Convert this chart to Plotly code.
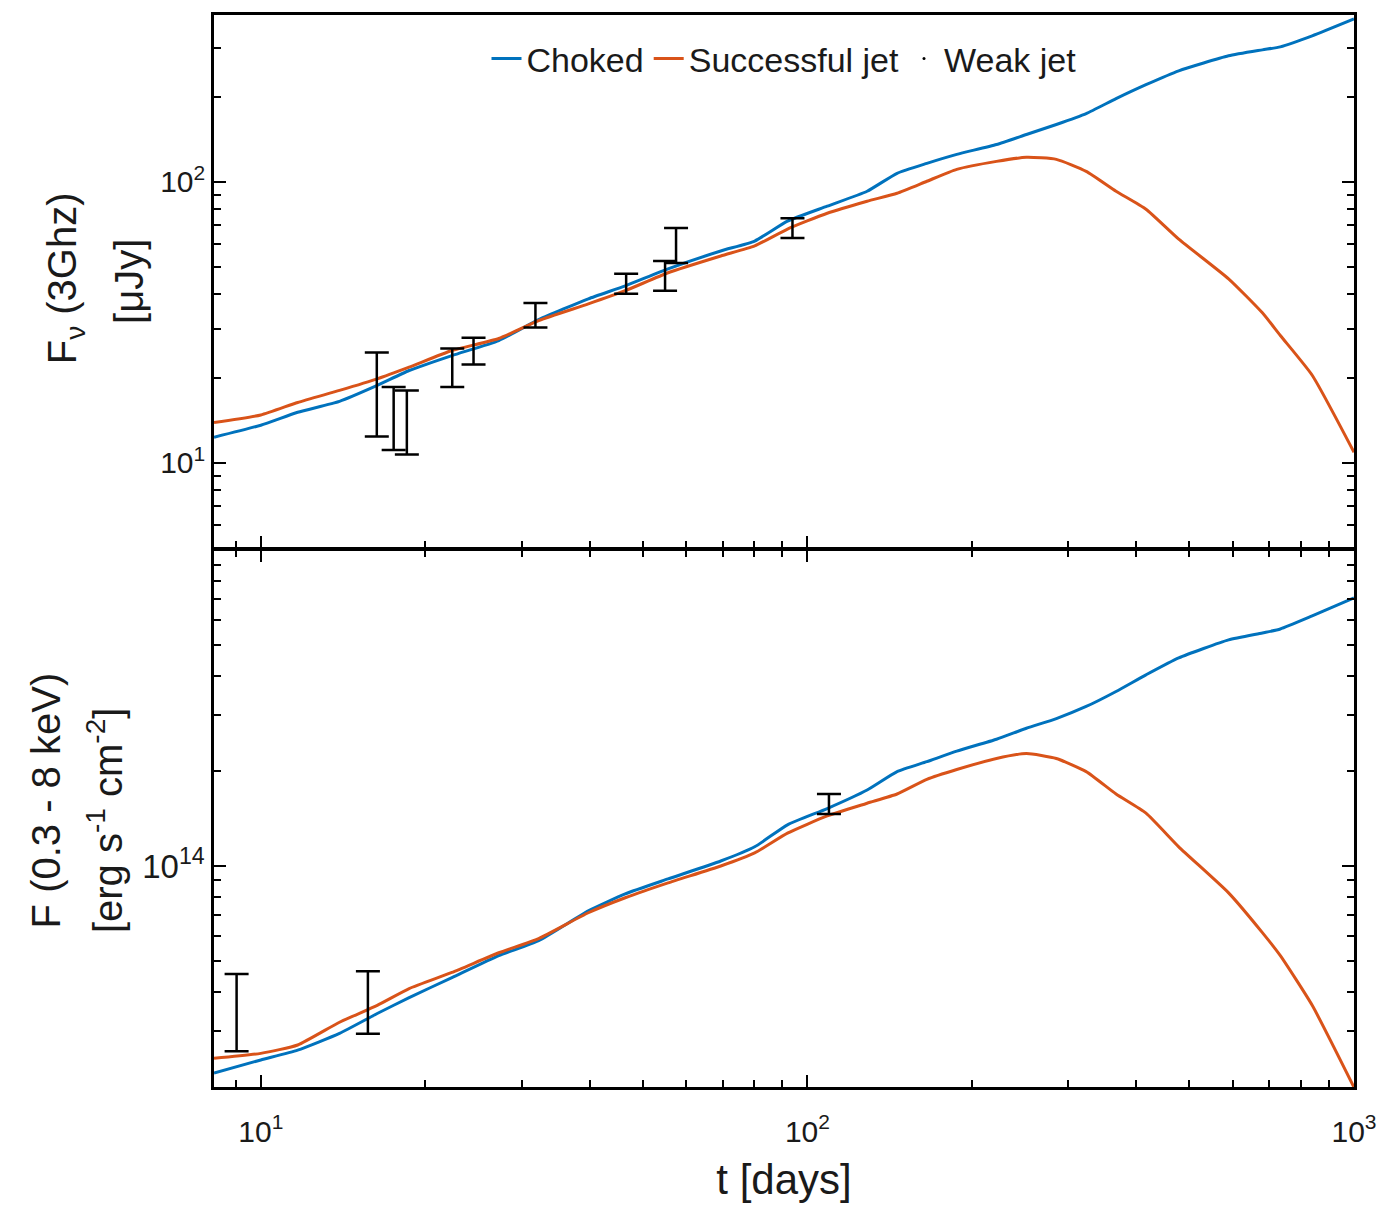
import numpy as np
import plotly.graph_objects as go

# ---------------- data ----------------
t_days = [8.21, 10.0, 11.68, 13.93, 16.33, 18.68, 22.37, 27.25, 32.23, 39.74,
          46.42, 55.59, 69.42, 80.08, 91.95, 108.7, 128.6, 145.9, 165.4, 187.6,
          221.8, 251.6, 285.4, 323.6, 367.0, 416.3, 477.9, 589.6, 679.8, 733.2,
          838.5, 1000.0]

# radio flux density at 3 GHz [uJy]
radio_choked = [12.33, 13.61, 15.13, 16.55, 18.86, 21.31, 24.09, 27.24, 32.33, 38.37,
                42.67, 49.02, 56.80, 61.62, 72.53, 82.0, 92.7, 107.4, 116.5, 125.4,
                136.0, 147.6, 160.2, 175.2, 198.1, 222.1, 248.9, 281.4, 295.5, 302.8,
                331.3, 380.6]
radio_successful = [13.9, 14.8, 16.4, 18.1, 19.9, 21.9, 25.1, 27.7, 32.1, 36.8,
                    41.0, 47.5, 54.5, 59.2, 68.0, 77.4, 85.4, 91.2, 100.6, 110.9,
                    118.4, 122.4, 120.4, 109.1, 92.7, 80.0, 62.6, 45.2, 34.2, 28.4,
                    20.5, 10.9]

# X-ray flux 0.3-8 keV, in units of 1e-15 erg s^-1 cm^-2
xray_unit = 1e-15
xray_choked = [2.21, 2.43, 2.61, 2.95, 3.41, 3.83, 4.43, 5.20, 5.80, 7.21,
               8.16, 9.10, 10.37, 11.5, 13.5, 15.2, 17.4, 19.9, 21.4, 23.1,
               25.2, 27.3, 29.3, 32.0, 35.7, 40.3, 45.6, 52.0, 54.7, 56.3,
               61.9, 70.6]
xray_successful = [2.46, 2.55, 2.71, 3.20, 3.62, 4.09, 4.60, 5.31, 5.89, 7.11,
                   7.93, 8.84, 10.0, 11.0, 12.7, 14.4, 15.8, 16.9, 18.8, 20.2,
                   21.9, 22.7, 21.9, 19.9, 16.9, 14.7, 11.5, 8.22, 6.15, 5.20,
                   3.62, 1.99]

# observations (error bar ranges)
radio_obs_t = [16.3, 17.5, 18.5, 22.4, 24.5, 31.8, 46.6, 54.9, 57.5, 93.9]
radio_obs_lo = [12.4, 11.1, 10.7, 18.6, 22.4, 30.3, 40.0, 41.0, 51.5, 63.2]
radio_obs_hi = [24.7, 18.6, 18.1, 25.5, 27.9, 37.1, 47.1, 52.3, 68.5, 74.3]

xray_obs_t = [9.03, 15.7, 109.5]
xray_obs_lo = [2.59, 2.94, 14.6]
xray_obs_hi = [4.55, 4.64, 16.9]

series_names = ["Choked", "Successful jet", "Weak jet"]
x_tick_vals = [10, 100, 1000]
x_tick_text = ["10<sup>1</sup>", "10<sup>2</sup>", "10<sup>3</sup>"]
y1_tick_vals = [10, 100]
y1_tick_text = ["10<sup>1</sup>", "10<sup>2</sup>"]
y2_tick_vals = [1e-14]
y2_tick_text = ["10<sup>14</sup>"]
y1_title = ["F<sub>ν</sub> (3Ghz)", "[μJy]"]
y2_title = ["F (0.3 - 8 keV)", "[erg s<sup>-1</sup> cm<sup>-2</sup>]"]
x_title = "t [days]"

# ---------------- style ----------------
BLUE = "#0072BD"
RED = "#D95319"
FONT = "Liberation Sans, Arial, sans-serif"
TXT = "#1a1a1a"
LINE = dict(width=3, shape="spline", smoothing=0.5)

fig = go.Figure()

# top panel curves
fig.add_trace(go.Scatter(x=t_days, y=radio_choked, mode="lines", name=series_names[0],
                         line=dict(color=BLUE, **LINE), xaxis="x", yaxis="y"))
fig.add_trace(go.Scatter(x=t_days, y=radio_successful, mode="lines", name=series_names[1],
                         line=dict(color=RED, **LINE), xaxis="x", yaxis="y"))
fig.add_trace(go.Scatter(x=[None], y=[None], mode="markers", name=series_names[2],
                         marker=dict(color="black", size=3), xaxis="x", yaxis="y"))

# bottom panel curves
xc = [v * xray_unit for v in xray_choked]
xs = [v * xray_unit for v in xray_successful]
fig.add_trace(go.Scatter(x=t_days, y=xc, mode="lines", name=series_names[0], showlegend=False,
                         line=dict(color=BLUE, **LINE), xaxis="x2", yaxis="y2"))
fig.add_trace(go.Scatter(x=t_days, y=xs, mode="lines", name=series_names[1], showlegend=False,
                         line=dict(color=RED, **LINE), xaxis="x2", yaxis="y2"))


def err_trace(t, lo, hi, scale, xa, ya):
    lo = np.array(lo) * scale
    hi = np.array(hi) * scale
    c = np.sqrt(lo * hi)
    return go.Scatter(x=t, y=c, mode="markers", showlegend=False,
                      marker=dict(size=1, color="rgba(0,0,0,0)"),
                      error_y=dict(type="data", symmetric=False, array=hi - c,
                                   arrayminus=c - lo, color="black", thickness=2.5, width=12),
                      xaxis=xa, yaxis=ya, hoverinfo="skip")


fig.add_trace(err_trace(radio_obs_t, radio_obs_lo, radio_obs_hi, 1.0, "x", "y"))
fig.add_trace(err_trace(xray_obs_t, xray_obs_lo, xray_obs_hi, xray_unit, "x2", "y2"))


def minor_vals(decades, mults):
    out = []
    for d in decades:
        for m in mults:
            out.append(m * d)
    return out


x_minor = [9] + minor_vals([10, 100], range(2, 10))
y1_minor = [6, 7, 8, 9] + minor_vals([10], range(2, 10)) + [200, 300]
y2_minor = minor_vals([1e-15], range(3, 10)) + minor_vals([1e-14], range(2, 10))

LW = 2.5
axis_common = dict(type="log", showgrid=False, zeroline=False, showline=True,
                   linecolor="black", linewidth=LW, ticks="inside", ticklen=12,
                   tickwidth=2, tickcolor="black",
                   tickfont=dict(family=FONT, size=30, color=TXT))
minor_common = dict(ticks="inside", ticklen=7, tickwidth=2, tickcolor="black", showgrid=False)

xlog_range = [np.log10(8.21), 3.0]
split = 0.5019
PLOT_H = 1208 - 13 - 121
gap = LW / 2 / PLOT_H   # so the two panel borders fall on the same pixel row

fig.update_layout(
    width=1389, height=1208,
    margin=dict(l=214, r=29, t=13, b=121),
    paper_bgcolor="white", plot_bgcolor="white",
    font=dict(family=FONT, color=TXT),
    xaxis=dict(**axis_common, domain=[0, 1], anchor="y", range=xlog_range,
               tickvals=x_tick_vals, showticklabels=False, mirror=True,
               minor=dict(tickvals=x_minor, **minor_common)),
    yaxis=dict(**axis_common, domain=[split + gap, 1], anchor="x", range=[0.6975, 2.5947],
               tickvals=y1_tick_vals, ticktext=y1_tick_text, mirror="allticks",
               minor=dict(tickvals=y1_minor, **minor_common)),
    xaxis2=dict(**axis_common, domain=[0, 1], anchor="y2", range=xlog_range,
                tickvals=x_tick_vals, ticktext=x_tick_text, mirror="allticks",
                ticklabelstandoff=16,
                minor=dict(tickvals=x_minor, **minor_common),
                title=dict(text=x_title, standoff=18,
                           font=dict(family=FONT, size=42, color=TXT))),
    yaxis2=dict(**{**axis_common, "tickfont": dict(family=FONT, size=33, color=TXT)},
                domain=[0, split - gap], anchor="x2", range=[-14.70, -13.0],
                tickvals=y2_tick_vals, ticktext=y2_tick_text, mirror="allticks",
                minor=dict(tickvals=y2_minor, **minor_common)),
    legend=dict(orientation="h", x=0.5, xanchor="center", y=0.959, yanchor="middle",
                bgcolor="rgba(0,0,0,0)", font=dict(family=FONT, size=34, color=TXT),
                itemwidth=30, tracegroupgap=0),
    showlegend=True,
)

# y-axis titles (two lines each) placed as rotated annotations
W_PLOT = 1389 - 214 - 29


def px_to_paper_x(px):
    return (px - 214) / W_PLOT


def py_to_paper_y(py):
    return (1087 - py) / PLOT_H


title_font = dict(family=FONT, size=40, color=TXT)
for text, cx, cy in [(y1_title[0], 64, 277), (y1_title[1], 128, 280),
                     (y2_title[0], 45, 800), (y2_title[1], 105, 820)]:
    fig.add_annotation(text=text, xref="paper", yref="paper",
                       x=px_to_paper_x(cx), y=py_to_paper_y(cy),
                       xanchor="center", yanchor="middle", textangle=-90,
                       showarrow=False, font=title_font)

fig.write_html("out.html", config={"displayModeBar": False},
               post_script="document.body.style.margin='0';")
